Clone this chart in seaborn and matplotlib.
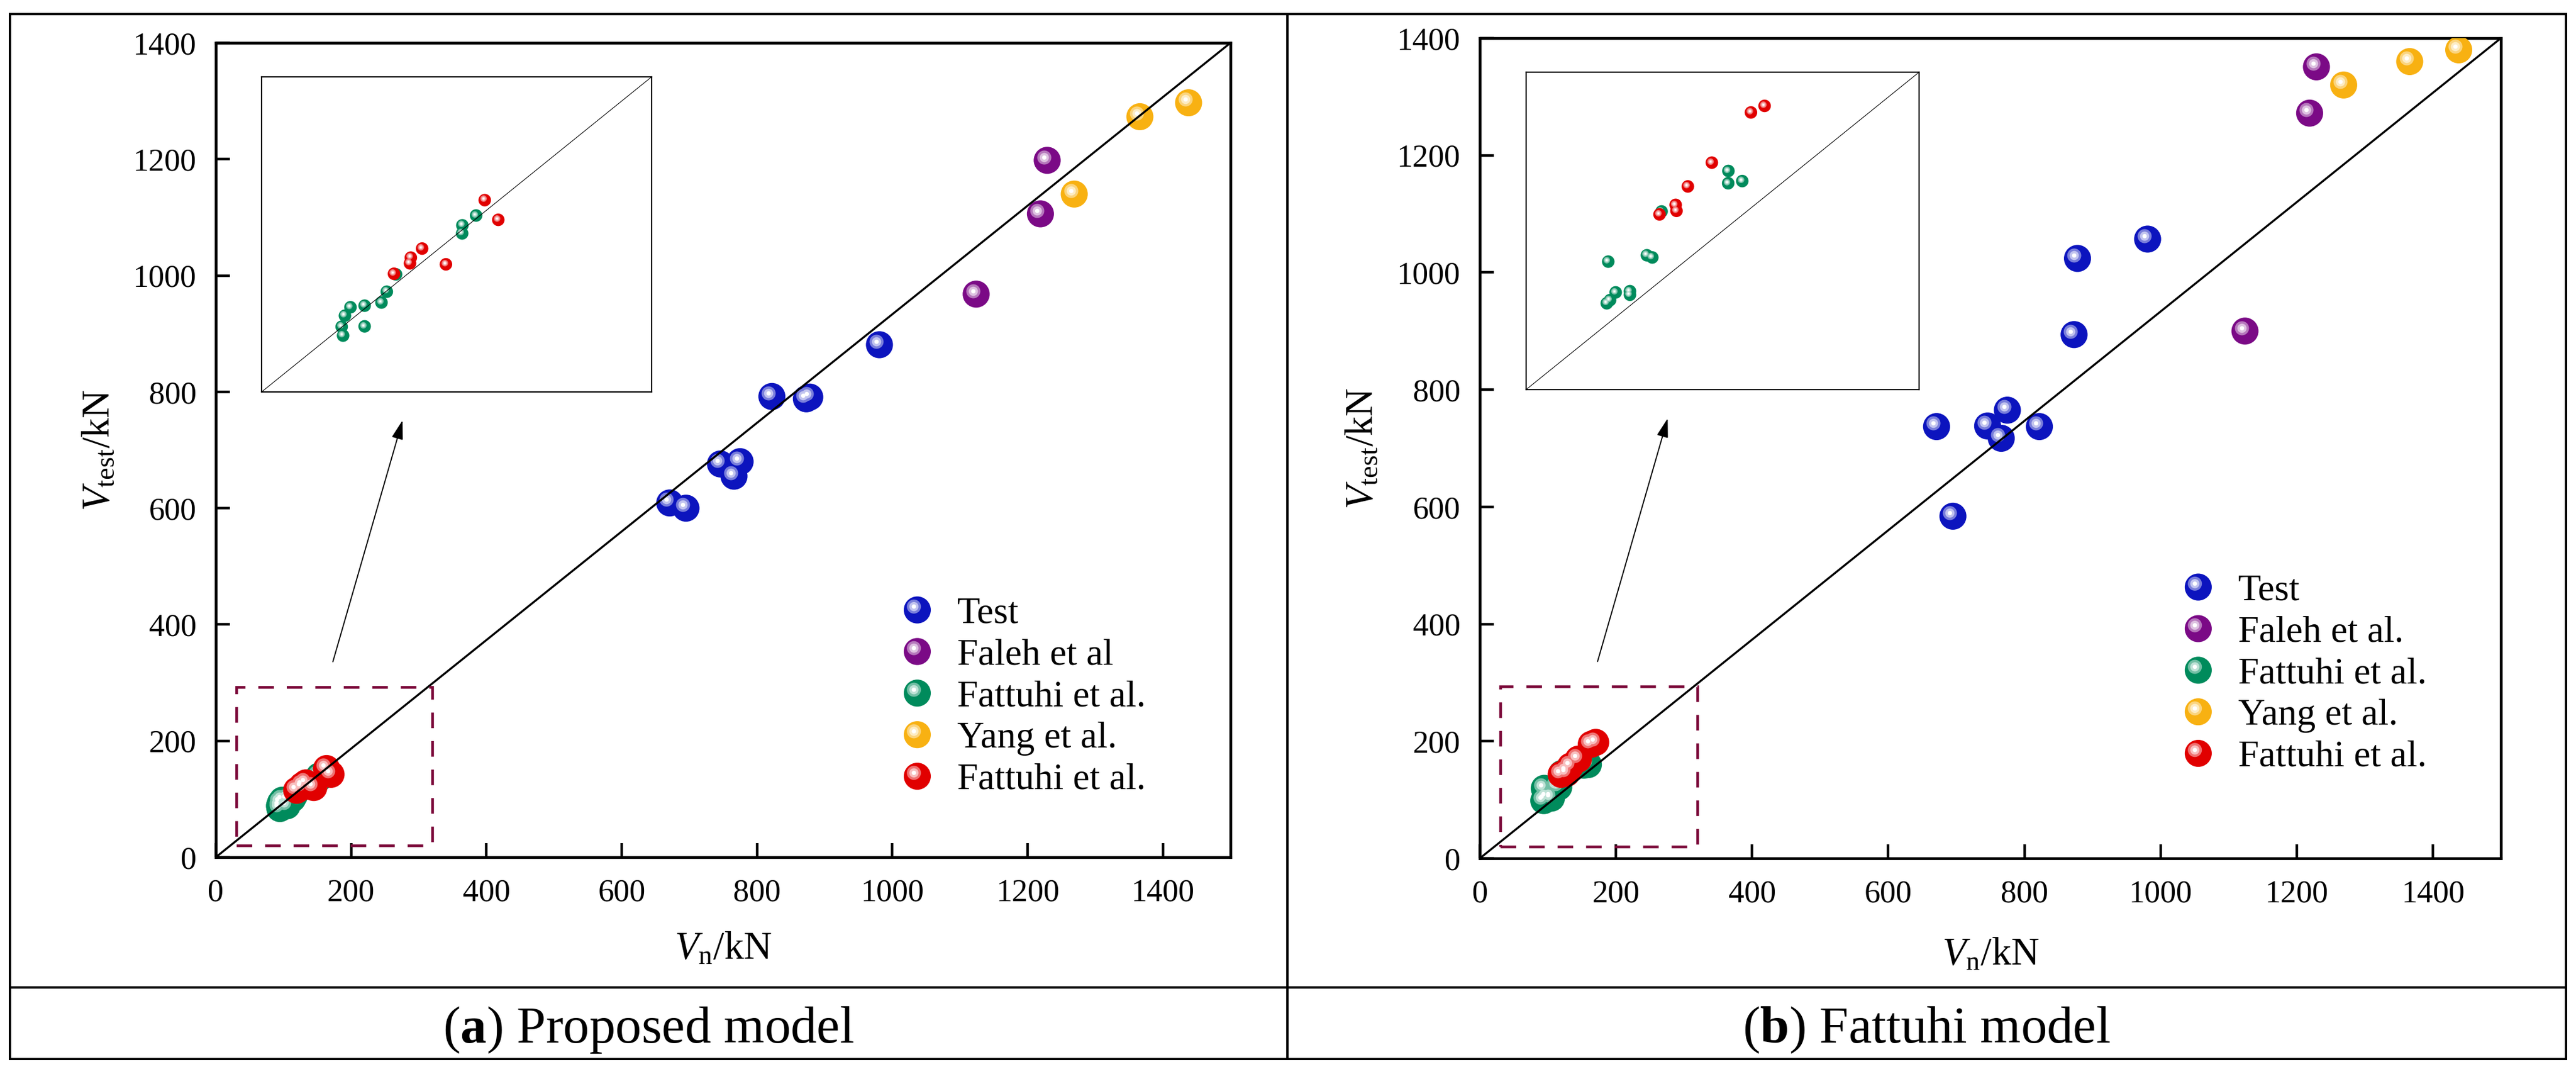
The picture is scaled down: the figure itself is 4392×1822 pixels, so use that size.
import numpy as np
import pandas as pd
import matplotlib
matplotlib.use("Agg")
import matplotlib.pyplot as plt
import matplotlib.colors as mcolors
from matplotlib import transforms
from matplotlib.lines import Line2D
from matplotlib.patches import Circle, Rectangle
from matplotlib.legend_handler import HandlerBase
import seaborn as sns

# ---------------- data (kN) ----------------
# V_n is shared by both panels, only V_test changes
TEST_VN = [671, 695, 746, 766, 775, 822, 873, 878, 981]
TEST_A = [609, 600, 676, 655, 680, 792, 788, 791, 881]
TEST_B = [737, 584, 738, 717, 765, 737, 894, 1024, 1057]

FALEH_VN = [1124, 1219, 1229]
FALEH_A = [968, 1106, 1198]
FALEH_B = [900, 1272, 1351]

FATTUHI_G_VN = [94.7, 94.0, 95.6, 98.3, 105.2, 105.2, 113.4, 116.0, 120.5, 152.7, 152.8, 159.5]
FATTUHI_G_A = [83.6, 88.1, 93.7, 98.0, 98.8, 88.3, 100.4, 105.9, 114.7, 135.5, 139.6, 144.6]
FATTUHI_G_B = [119.5, 98.5, 100.1, 104.0, 102.8, 104.6, 122.7, 121.6, 144.8, 159.0, 165.2, 160.1]

YANG_VN = [1269, 1366, 1438]
YANG_A = [1140, 1273, 1297]
YANG_B = [1320, 1360, 1380]

FATTUHI_R_VN = [119.5, 127.3, 127.7, 133.2, 144.8, 163.7, 170.3]
FATTUHI_R_A = [115.0, 120.3, 123.2, 127.8, 119.8, 152.4, 142.4]
FATTUHI_R_B = [143.3, 148.1, 145.1, 157.4, 169.4, 194.7, 198.0]

LABELS_A = ["Test", "Faleh et al", "Fattuhi et al.", "Yang et al.", "Fattuhi et al."]
LABELS_B = ["Test", "Faleh et al.", "Fattuhi et al.", "Yang et al.", "Fattuhi et al."]
COLORS = ["#0C14BE", "#7B0A86", "#008B5C", "#F8B112", "#E10000"]

XLIM = (0, 1500)
YLIM = (0, 1400)
TICKS = list(range(0, 1401, 200))
ZOOM_X = (30, 320)          # dashed window
ZOOM_Y = (20, 293)
INSET_X = (55, 245)
INSET_Y = (55, 215)
ARROW_TAIL = (173, 336)
ARROW_HEAD = (276, 751)

# ---------------- style ----------------
plt.rcParams["font.family"] = ["Liberation Serif", "DejaVu Serif"]
plt.rcParams["mathtext.fontset"] = "custom"
plt.rcParams["mathtext.rm"] = "Liberation Serif"
plt.rcParams["mathtext.it"] = "Liberation Serif:italic"
plt.rcParams["mathtext.bf"] = "Liberation Serif:bold"

W, H = 4392, 1822
BALL_D = 16.6     # points, main plot spheres
SMALL_D = 7.7     # points, inset spheres
GLOSS = [(0.52, 0.45), (0.34, 0.75), (0.16, 1.0)]  # (size fraction, white mix)


def tint(c, amount):
    rgb = np.array(mcolors.to_rgb(c))
    return tuple(rgb + (1 - rgb) * amount)


def px_rect(l, t, r, b):
    return [l / W, (H - b) / H, (r - l) / W, (b - t) / H]


def draw_balls(ax, df, color, diam, z):
    sns.scatterplot(data=df, x="Vn", y="Vtest", color=color, s=diam ** 2,
                    linewidth=0, edgecolor="none", ax=ax, zorder=z, legend=False)
    off = transforms.offset_copy(ax.transData, fig=ax.figure,
                                 x=-0.125 * diam, y=0.125 * diam, units="points")
    for frac, mix in GLOSS:
        ax.scatter(df["Vn"], df["Vtest"], s=(frac * diam) ** 2, color=tint(color, mix),
                   linewidths=0, transform=off, zorder=z + 0.1)


class Ball:
    def __init__(self, color):
        self.color = color


class BallHandler(HandlerBase):
    def create_artists(self, legend, orig_handle, xdescent, ydescent,
                       width, height, fontsize, trans):
        cx = 0.5 * width - xdescent
        cy = 0.5 * height - ydescent
        r = BALL_D / 2
        arts = [Circle((cx, cy), r, facecolor=orig_handle.color, edgecolor="none",
                       transform=trans)]
        for frac, mix in GLOSS:
            arts.append(Circle((cx - 0.125 * BALL_D, cy + 0.125 * BALL_D), r * frac,
                               facecolor=tint(orig_handle.color, mix), edgecolor="none",
                               transform=trans))
        return arts


def make_frame(series_y):
    vns = [TEST_VN, FALEH_VN, FATTUHI_G_VN, YANG_VN, FATTUHI_R_VN]
    return [pd.DataFrame({"Vn": x, "Vtest": y}) for x, y in zip(vns, series_y)]


def draw_panel(fig, main_rect, inset_rect, frames, labels, legend_anchor, xlab_y):
    ax = fig.add_axes(main_rect)
    for i, (df, c) in enumerate(zip(frames, COLORS)):
        draw_balls(ax, df, c, BALL_D, 2 + i)
    ax.plot(XLIM, YLIM, color="k", lw=1.25, zorder=10)
    ax.add_patch(Rectangle((ZOOM_X[0], ZOOM_Y[0]), ZOOM_X[1] - ZOOM_X[0], ZOOM_Y[1] - ZOOM_Y[0],
                           fill=False, ec="#7A0838", lw=1.65,
                           linestyle=(0, (5.8, 4.8)), zorder=11))
    ax.annotate("", xy=ARROW_HEAD, xytext=ARROW_TAIL,
                arrowprops=dict(arrowstyle="-|>,head_length=0.5,head_width=0.15",
                                color="k", lw=0.7, shrinkA=0, shrinkB=0,
                                mutation_scale=20))
    ax.set_xlim(XLIM)
    ax.set_ylim(YLIM)
    ax.set_xticks(TICKS)
    ax.set_yticks(TICKS)
    ax.tick_params(direction="in", length=8.6, width=1.6, labelsize=19.5,
                   top=False, right=False)
    ax.tick_params(axis="y", pad=12)
    ax.tick_params(axis="x", pad=13)
    for sp in ax.spines.values():
        sp.set_linewidth(1.7)
    ax.set_xlabel(r"$V_{\mathrm{n}}$/kN", fontsize=24)
    ax.set_ylabel(r"$V_{\mathrm{test}}$/kN", fontsize=24)
    ax.xaxis.set_label_coords(0.5, xlab_y)
    ax.yaxis.set_label_coords(-0.097, 0.5)

    ax.legend([Ball(c) for c in COLORS], labels, handler_map={Ball: BallHandler()},
              loc="upper left", bbox_to_anchor=legend_anchor, bbox_transform=fig.transFigure,
              frameon=False, fontsize=23, borderpad=0, borderaxespad=0,
              labelspacing=0.1, handlelength=1.0, handleheight=1.0, handletextpad=0.56)

    axin = fig.add_axes(inset_rect)
    axin.set_facecolor("white")
    draw_balls(axin, frames[2], COLORS[2], SMALL_D, 2)
    draw_balls(axin, frames[4], COLORS[4], SMALL_D, 4)
    axin.plot(INSET_X, INSET_Y, color="k", lw=0.4, zorder=10)
    axin.set_xlim(INSET_X)
    axin.set_ylim(INSET_Y)
    axin.set_xticks([])
    axin.set_yticks([])
    axin.set_xlabel("")
    axin.set_ylabel("")
    for sp in axin.spines.values():
        sp.set_linewidth(0.8)
    return ax


fig = plt.figure(figsize=(W / 200, H / 200), dpi=200)

draw_panel(fig, px_rect(368, 73, 2098, 1461), px_rect(446, 131, 1111, 668),
           make_frame([TEST_A, FALEH_A, FATTUHI_G_A, YANG_A, FATTUHI_R_A]),
           LABELS_A, ((1564 - 32) / W, (H - 1011) / H), -0.091)
draw_panel(fig, px_rect(2523, 65, 4264, 1463), px_rect(2602, 123, 3272, 664),
           make_frame([TEST_B, FALEH_B, FATTUHI_G_B, YANG_B, FATTUHI_R_B]),
           LABELS_B, ((3748 - 32) / W, (H - 972) / H), -0.096)

# table-like frame around the two panels
fig.add_artist(Rectangle((17 / W, (H - 1805) / H), (4375 - 17) / W, (1805 - 24) / H,
                         transform=fig.transFigure, fill=False, lw=1.44, ec="k"))
fig.add_artist(Line2D([2195 / W] * 2, [(H - 1805) / H, (H - 24) / H],
                      transform=fig.transFigure, color="k", lw=1.44))
fig.add_artist(Line2D([17 / W, 4375 / W], [(H - 1683) / H] * 2,
                      transform=fig.transFigure, color="k", lw=1.44))

fig.text(1106 / W, (H - 1777) / H, r"($\mathbf{a}$) Proposed model",
         ha="center", va="baseline", fontsize=32)
fig.text(3285 / W, (H - 1777) / H, r"($\mathbf{b}$) Fattuhi model",
         ha="center", va="baseline", fontsize=32)

fig.savefig("out.png", dpi=200, facecolor="white")
